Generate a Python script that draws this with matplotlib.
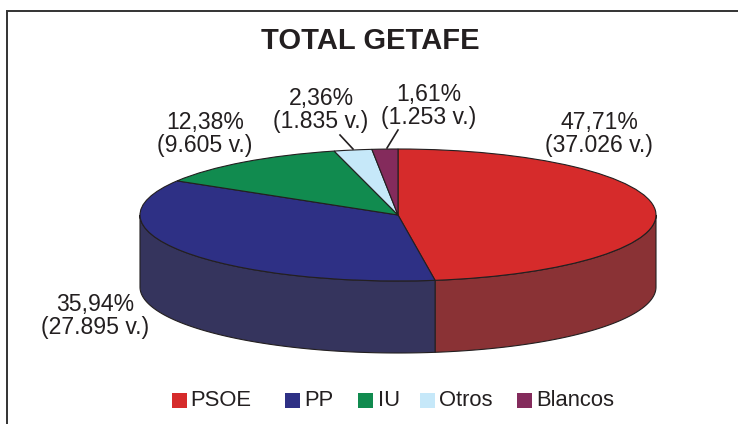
import numpy as np
import matplotlib
matplotlib.use('Agg')
import matplotlib.pyplot as plt
from matplotlib.patches import Rectangle

plt.rcParams['font.family'] = ['Liberation Sans', 'DejaVu Sans']

parties = ['PSOE', 'PP', 'IU', 'Otros', 'Blancos']
votes = [37026, 27895, 9605, 1835, 1253]
labels = ['47,71%\n(37.026 v.)', '35,94%\n(27.895 v.)', '12,38%\n(9.605 v.)',
          '2,36%\n(1.835 v.)', '1,61%\n(1.253 v.)']
colors = ['#D62B2B', '#2E3085', '#118B4F', '#C6E8F9', '#842B5C']
side_colors = ['#8A3235', '#35345D', '#0B5C35', '#8FB0C0', '#5A1D3F']

W, H = 738, 424
edge = '#231F20'
txt = '#231F20'

fig = plt.figure(figsize=(W / 100, H / 100), dpi=100, facecolor='white')

# pie ellipse in pixels
left, right, top, bottom = 140, 656, 149, 281
depth = 72

ax = fig.add_axes([left / W, 1 - bottom / H, (right - left) / W, (bottom - top) / H])
ax.pie(votes, colors=colors, startangle=90, counterclock=False, radius=1,
       wedgeprops=dict(edgecolor=edge, linewidth=0.8))
ax.set_aspect('auto')
ax.set_xlim(-1, 1)
ax.set_ylim(-1, 1)
ax.set_frame_on(False)
for p in ax.patches:
    p.set_clip_on(False)
    p.set_zorder(3)

# side wall, only the front half of the cylinder shows
d = depth / ((bottom - top) / 2)
fr = np.cumsum([0] + votes) / sum(votes)
for i in range(len(votes)):
    a0 = max(fr[i] * 2 * np.pi, np.pi / 2)
    a1 = min(fr[i + 1] * 2 * np.pi, 3 * np.pi / 2)
    if a1 <= a0:
        continue
    t = np.linspace(a0, a1, 120)
    xs = np.sin(t)
    ys = np.cos(t)
    px = np.r_[xs, xs[::-1]]
    py = np.r_[ys, ys[::-1] - d]
    ax.fill(px, py, facecolor=side_colors[i], edgecolor=edge, linewidth=0.8,
            clip_on=False, zorder=2)

# overlay in pixel units for the text and frame
ov = fig.add_axes([0, 0, 1, 1], facecolor='none')
ov.set_xlim(0, W)
ov.set_ylim(H, 0)
ov.axis('off')

ov.plot([7, 7, W], [H, 11, 11], color='#333333', lw=1.4, solid_joinstyle='miter')

ov.text(370, 41, 'TOTAL GETAFE', fontsize=21, fontweight='bold', color=txt,
        ha='center', va='center')

label_pos = [(599, 134), (95, 316), (205, 134), (321, 110), (429, 106)]
for s, (x, y) in zip(labels, label_pos):
    ov.text(x, y, s, fontsize=16.6, color=txt, ha='center', va='center', linespacing=1.05)

ov.plot([340, 353], [135, 149], color=edge, lw=1.2)
ov.plot([398, 387], [130, 148], color=edge, lw=1.2)

box_x = [172, 285, 358, 420, 517]
text_x = [190, 304, 378, 439, 536]
for name, c, bx, tx in zip(parties, colors, box_x, text_x):
    ov.add_patch(Rectangle((bx, 393), 15, 15, facecolor=c, edgecolor='none'))
    ov.text(tx, 401, name, fontsize=15.8, color=txt, ha='left', va='center')

fig.savefig('out.png', dpi=100)
